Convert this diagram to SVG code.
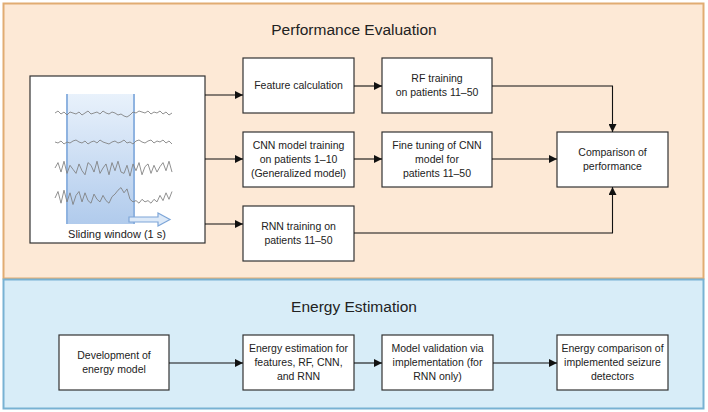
<svg xmlns="http://www.w3.org/2000/svg" width="708" height="412" viewBox="0 0 708 412">
<defs>
<style>
.box{fill:#fff;stroke:#333;stroke-width:1.2}
.lbl{font-family:"Liberation Sans",Arial,sans-serif;font-size:10.5px;fill:#222;text-anchor:middle}
.ttl{font-family:"Liberation Sans",Arial,sans-serif;font-size:15.5px;fill:#222;text-anchor:middle}
.con{fill:none;stroke:#111;stroke-width:1.1}
.eeg{fill:none;stroke:#7d7d7d;stroke-width:0.85;stroke-linejoin:round}
</style>
<marker id="ah" viewBox="0 0 10 10" refX="10" refY="5" markerWidth="8" markerHeight="8" markerUnits="userSpaceOnUse" orient="auto">
<path d="M0,0 L10,5 L0,10 z" fill="#111"/>
</marker>
<linearGradient id="win" x1="0" y1="0" x2="0" y2="1">
<stop offset="0" stop-color="#e6f0fb"/>
<stop offset="1" stop-color="#a8c5ea"/>
</linearGradient>
</defs>
<g id="panel-performance">
<rect x="3.5" y="3.5" width="700" height="275" fill="#fde9d6" stroke="#e1ac72" stroke-width="2"/>
<text class="ttl" x="354" y="35">Performance Evaluation</text>
</g>
<g id="panel-energy">
<rect x="3.5" y="279.5" width="700" height="129" fill="#d8edf8" stroke="#78b2d3" stroke-width="2"/>
<text class="ttl" x="354" y="312">Energy Estimation</text>
</g>
<g id="eeg">
<rect class="box" x="30" y="76" width="175" height="167"/>
<rect x="66" y="94" width="69" height="130" fill="url(#win)" opacity="0.9"/>
<line x1="67" y1="94" x2="67" y2="224" stroke="#8fb3e0" stroke-width="2"/>
<line x1="134" y1="94" x2="134" y2="224" stroke="#8fb3e0" stroke-width="2"/>
<path class="eeg" d="M55,113 L58,111 61,114 64,112 67,115 70,112 73,113 76,114 79,112 82,115 85,113 88,111 91,114 94,113 97,112 100,114 103,111 106,113 109,114 112,112 115,113 118,115 121,114 124,116 127,117 130,115 133,112 136,113 139,111 142,112 145,113 148,111 151,114 154,112 157,113 160,111 163,114 166,112 169,115 172,113"/>
<path class="eeg" d="M55,142 L58,143 61,141 64,144 67,142 70,143 73,141 76,140 79,142 82,143 85,141 88,144 91,142 94,141 97,143 100,140 103,142 106,143 109,144 112,142 115,141 118,143 121,142 124,140 127,143 130,142 133,144 136,141 139,140 142,142 145,143 148,141 151,140 154,143 157,141 160,142 163,140 166,143 169,141 172,144"/>
<path class="eeg" vector-effect="non-scaling-stroke" transform="translate(0,168) scale(1,1.35) translate(0,-168)" d="M55,168 L58,164 61,171 64,163 67,172 70,166 73,169 76,172 79,165 82,170 85,173 88,164 91,166 94,171 97,163 100,172 103,168 106,165 109,173 112,164 115,170 118,163 121,171 124,172 127,166 130,174 133,165 136,170 139,164 142,173 145,167 148,165 151,172 154,166 157,171 160,167 163,164 166,170 169,163 172,171"/>
<path class="eeg" vector-effect="non-scaling-stroke" transform="translate(0,198) scale(1,1.3) translate(0,-198)" d="M55,198 L58,193 61,202 64,192 67,201 70,194 73,203 76,196 79,193 82,201 85,194 88,200 91,202 94,195 97,199 100,201 103,196 106,200 109,202 112,197 115,195 118,192 121,190 124,194 127,191 130,199 133,201 136,200 139,202 142,199 145,201 148,200 151,202 154,199 157,201 160,196 163,200 166,194 169,199 172,193"/>
<path d="M129,217 L158,217 L158,213 L170,219.5 L158,226 L158,222 L129,222 z" fill="#dce9f8" stroke="#7ea6d8" stroke-width="1.2"/>
<text class="lbl" x="117" y="238" style="font-size:11px">Sliding window (1 s)</text>
</g>
<g id="feature">
<rect class="box" x="243" y="58" width="111" height="55"/>
<text class="lbl" x="298.5" y="89">Feature calculation</text>
</g>
<g id="rf">
<rect class="box" x="382" y="58" width="110" height="55"/>
<text class="lbl" x="437" y="82">RF training</text>
<text class="lbl" x="437" y="96">on patients 11–50</text>
</g>
<g id="cnn">
<rect class="box" x="243" y="132" width="111" height="55"/>
<text class="lbl" x="298.5" y="149">CNN model training</text>
<text class="lbl" x="298.5" y="163">on patients 1–10</text>
<text class="lbl" x="298.5" y="177">(Generalized model)</text>
</g>
<g id="finetune">
<rect class="box" x="382" y="132" width="110" height="55"/>
<text class="lbl" x="437" y="149">Fine tuning of CNN</text>
<text class="lbl" x="437" y="163">model for</text>
<text class="lbl" x="437" y="177">patients 11–50</text>
</g>
<g id="rnn">
<rect class="box" x="243" y="206" width="111" height="55"/>
<text class="lbl" x="298.5" y="230">RNN training on</text>
<text class="lbl" x="298.5" y="244">patients 11–50</text>
</g>
<g id="comparison">
<rect class="box" x="557" y="132" width="111" height="55"/>
<text class="lbl" x="612.5" y="156">Comparison of</text>
<text class="lbl" x="612.5" y="170">performance</text>
</g>
<g id="devmodel">
<rect class="box" x="59" y="335" width="110" height="55"/>
<text class="lbl" x="114" y="359">Development of</text>
<text class="lbl" x="114" y="373">energy model</text>
</g>
<g id="energyest">
<rect class="box" x="243" y="335" width="111" height="55"/>
<text class="lbl" x="298.5" y="352">Energy estimation for</text>
<text class="lbl" x="298.5" y="366">features, RF, CNN,</text>
<text class="lbl" x="298.5" y="380">and RNN</text>
</g>
<g id="validation">
<rect class="box" x="382" y="335" width="111" height="55"/>
<text class="lbl" x="437.5" y="352">Model validation via</text>
<text class="lbl" x="437.5" y="366">implementation (for</text>
<text class="lbl" x="437.5" y="380">RNN only)</text>
</g>
<g id="energycomp">
<rect class="box" x="557" y="335" width="111" height="55"/>
<text class="lbl" x="612.5" y="352">Energy comparison of</text>
<text class="lbl" x="612.5" y="366">implemented seizure</text>
<text class="lbl" x="612.5" y="380">detectors</text>
</g>
<g id="connectors">
<path class="con" d="M205,95 H243" marker-end="url(#ah)"/>
<path class="con" d="M205,159 H243" marker-end="url(#ah)"/>
<path class="con" d="M205,224 H243" marker-end="url(#ah)"/>
<path class="con" d="M354,86 H382" marker-end="url(#ah)"/>
<path class="con" d="M354,159 H382" marker-end="url(#ah)"/>
<path class="con" d="M492,86 H612.5 V132" marker-end="url(#ah)"/>
<path class="con" d="M492,159 H557" marker-end="url(#ah)"/>
<path class="con" d="M354,233 H612.5 V187" marker-end="url(#ah)"/>
<path class="con" d="M169,363 H243" marker-end="url(#ah)"/>
<path class="con" d="M354,363 H382" marker-end="url(#ah)"/>
<path class="con" d="M493,363 H557" marker-end="url(#ah)"/>
</g>
</svg>
